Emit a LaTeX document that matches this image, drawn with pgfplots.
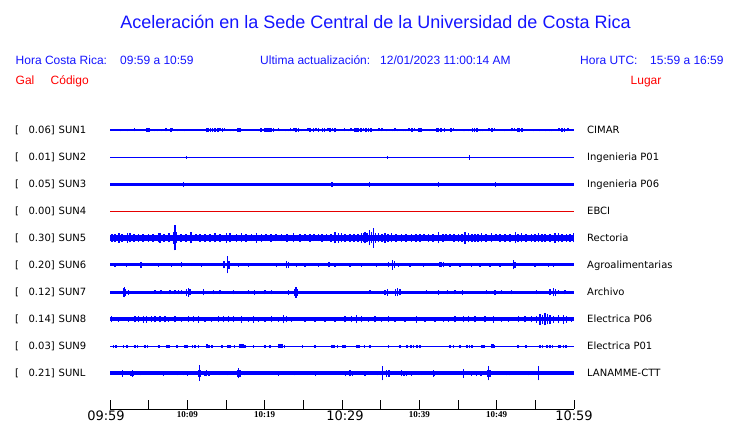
\documentclass[border=0pt]{standalone}
\usepackage{fontspec}
\setmainfont{Liberation Sans}
\newfontfamily\dejavu{DejaVu Sans}
\newfontfamily\lserif{Liberation Serif}
\usepackage{pgfplots}
\pgfplotsset{compat=1.18}
\definecolor{trace}{RGB}{0,0,255}
\definecolor{hdrblue}{RGB}{20,20,255}
\definecolor{hdrred}{RGB}{255,0,0}
\definecolor{redline}{RGB}{230,0,0}
\pgfplotsset{
  spk/.style={draw=trace, line width=#1, mark=none, forget plot, -,
    quiver={u=0, v=2*\thisrowno{1}}},
  spk/.default=1pt,
  baseln/.style={draw=trace, line width=#1, mark=none, forget plot},
}
\begin{document}
\begin{tikzpicture}
\path[use as bounding box] (0,0) rectangle (740pt,423pt);
% ---- header texts ----
\node[anchor=base, inner sep=0, text=hdrblue, font=\fontsize{18}{20}\selectfont] at (375.5pt,394.5pt) {Aceleración en la Sede Central de la Universidad de Costa Rica};
\begin{scope}[every node/.style={inner sep=0, text=hdrblue, font=\fontsize{12}{14}\selectfont}]
\node[anchor=base west] at (15.5pt,358.7pt) {Hora Costa Rica:};
\node[anchor=base west] at (120pt,358.7pt) {09:59 a 10:59};
\node[anchor=base west] at (260pt,358.7pt) {Ultima actualización:};
\node[anchor=base west] at (380pt,358.7pt) {12/01/2023 11:00:14 AM};
\node[anchor=base west] at (580pt,358.7pt) {Hora UTC:};
\node[anchor=base west] at (650pt,358.7pt) {15:59 a 16:59};
\end{scope}
\begin{scope}[every node/.style={inner sep=0, text=hdrred, font=\fontsize{12}{14}\selectfont}]
\node[anchor=base west] at (15.5pt,338.7pt) {Gal};
\node[anchor=base west] at (50.5pt,338.7pt) {Código};
\node[anchor=base west] at (630.5pt,338.7pt) {Lugar};
\end{scope}
% ---- trace labels ----
\begin{scope}[every node/.style={inner sep=0, font=\dejavu\fontsize{10}{12}\selectfont}]
\foreach \py/\val/\code/\place in {130/0.06/SUN1/CIMAR, 157.3/0.01/SUN2/Ingenieria P01, 184.3/0.05/SUN3/Ingenieria P06, 211.3/0.00/SUN4/EBCI, 238/0.30/SUN5/Rectoria, 265/0.20/SUN6/Agroalimentarias, 292.3/0.12/SUN7/Archivo, 319.3/0.14/SUN8/Electrica P06, 346.3/0.03/SUN9/Electrica P01, 373.3/0.21/SUNL/LANAMME-CTT}{
  \pgfmathsetmacro{\yy}{423-\py-3.7}
  \node[anchor=base west] at (15pt,\yy pt) {[};
  \node[anchor=base east] at (55pt,\yy pt) {\val]};
  \node[anchor=base west] at (58.5pt,\yy pt) {\code};
  \node[anchor=base west] at (587pt,\yy pt) {\place};
}
\end{scope}
% ---- time labels ----
\node[anchor=base, inner sep=0, font=\dejavu\fontsize{13}{13}\selectfont] at (106pt,2.4pt) {09:59};
\node[anchor=base, inner sep=0, font=\dejavu\fontsize{13}{13}\selectfont] at (345pt,2.4pt) {10:29};
\node[anchor=base, inner sep=0, font=\dejavu\fontsize{13}{13}\selectfont] at (574pt,2.4pt) {10:59};
\foreach \xx/\tt in {187.3/10:09, 264.7/10:19, 419.3/10:39, 496.7/10:49}{
  \node[anchor=base, inner sep=0, font=\lserif\bfseries\fontsize{9}{9}\selectfont] at (\xx pt,5pt) {\tt};
}
\begin{axis}[at={(110pt,14pt)}, anchor=south west, scale only axis,
  width=464pt, height=294pt, xmin=0, xmax=464, ymin=0, ymax=294,
  clip=false, axis x line*=bottom, axis y line=none,
  axis line style={black, line width=0.8pt},
  xtick={0,38.667,77.333,116,154.667,193.333,232,270.667,309.333,348,386.667,425.333,464},
  xticklabels={}, xtick align=inside, major tick length=9pt,
  tick style={black, line width=0.8pt}, ytick=\empty]
% SUN1
\addplot[baseln=1.3pt] coordinates {(0,279) (464,279)};
\addplot[spk=1.6pt] table[row sep=\\, x index=0, y expr=279-\thisrowno{1}] {
10.7 1.3\\ 17.3 1.3\\ 24.3 1.5\\ 36.7 1.6\\ 39 1.6\\ 45 1.3\\ 47.3 1.3\\ 51.7 1.3\\ 56 1.5\\ 57 1.3\\
60.7 1.6\\ 61.7 1.5\\ 67.3 1.3\\ 74.3 1.3\\ 84.3 1\\ 96.7 2.3\\ 98.3 1.8\\ 100.3 1.6\\ 102.3 1.6\\ 105 1.6\\
107.7 1.6\\ 110 1.5\\ 112.3 1.6\\ 114.3 1.5\\ 120.7 1.3\\ 123.3 1.3\\ 128 1.6\\ 130 1.6\\ 149 1.3\\ 151 1.6\\
155 1.6\\ 157 1.8\\ 159 1.8\\ 161 1.6\\ 163.3 1.6\\ 168.3 1.5\\ 170 1.3\\ 175.7 1.3\\ 178.3 1.3\\ 180.3 1.5\\
184 1.5\\ 186 2.3\\ 188.3 1.6\\ 191.7 1.3\\ 197.7 1.5\\ 200 1.6\\ 203.3 1.6\\ 205.7 1.5\\ 208.3 1.6\\ 212.3 1.6\\
214.3 2.2\\ 217.7 1.5\\ 220 1.6\\ 222.3 1.5\\ 225 2.3\\ 228.3 1.3\\ 234.3 1.5\\ 239 1.3\\ 241 1.5\\ 245 1.8\\
246.7 2.2\\ 248.3 1.8\\ 251 1.6\\ 253.3 1.5\\ 256 2.3\\ 258.3 1.8\\ 261 1.6\\ 263.3 1.3\\ 268.7 1.5\\ 272 1.5\\
276.7 1.3\\ 282.3 1.3\\ 285 1.5\\ 287.7 1.3\\ 293.3 1.3\\ 295.7 1.3\\ 299 1.5\\ 301.7 1.6\\ 304.3 1.5\\ 309 1.6\\
311 1.6\\ 320 1.3\\ 326.7 1.8\\ 328.3 2.3\\ 331 1.8\\ 334.3 1.6\\ 341 1.8\\ 343.3 1.5\\ 346.7 1.3\\ 353.3 1.3\\
355 1.3\\ 358.3 1.3\\ 362.3 1.8\\ 364.3 2.2\\ 366.7 1.6\\ 371 1.3\\ 372.7 1.3\\ 379 1.5\\ 381.7 1.6\\ 384.3 1.5\\
394.3 1.3\\ 401.7 1.5\\ 404.3 1.5\\ 407.7 1.8\\ 409.3 2.3\\ 411.7 1.6\\ 415 1.3\\ 423.3 1.3\\ 430 1.3\\ 435.7 1.3\\
440 1.3\\ 441.7 1.3\\ 449 1.5\\ 451.7 1.6\\ 454.3 1.6\\ 457.7 1.5\\
};
% SUN2
\addplot[baseln=1.4pt] coordinates {(0,251.7) (464,251.7)};
\addplot[spk=1.4pt] table[row sep=\\, x index=0, y expr=251.7-\thisrowno{1}] {
76.3 1.4\\ 277.7 1.4\\ 359.3 2.4\\
};
% SUN3
\addplot[baseln=2.7pt] coordinates {(0,224.7) (464,224.7)};
\addplot[spk=1pt] table[row sep=\\, x index=0, y expr=224.7-\thisrowno{1}] {
73.3 2.5\\ 221 2.6\\ 222.7 2.6\\ 259.3 2.6\\ 328.3 2.6\\ 385.3 2.6\\
};
% SUN4 (red)
\addplot[draw=redline, line width=1.4pt, mark=none, forget plot] coordinates {(0,197.7) (464,197.7)};
% SUN5
\addplot[baseln=5.5pt] coordinates {(0,171) (464,171)};
\addplot[spk=1.3pt] table[row sep=\\, x index=0, y expr=171-\thisrowno{1}] {
2 3.8\\ 5 4.2\\ 9 5\\ 12 3.8\\ 17.7 5\\ 20 4.5\\ 24 3.6\\ 28.3 4\\ 33 3.6\\ 38.3 4\\ 43 3.8\\ 48.3 4.5\\ 50 5\\
54 3.8\\ 59 4.5\\ 63.3 6\\ 65 12.5\\ 66.7 5.5\\ 71 3.6\\ 76 3.8\\ 81 5.5\\ 86 3.5\\ 90 3.6\\ 95 4\\ 100 4\\
105 4.5\\ 110 3.6\\ 116.7 5\\ 120 4.5\\ 126.7 4\\ 131.7 4.5\\ 136 3.6\\ 141.7 3.5\\ 146.7 5\\ 151.7 4\\ 156 3.5\\
161 3.6\\ 166 3.5\\ 171.7 3.5\\ 177 3.8\\ 183.3 4.5\\ 190 4\\ 195 3.5\\ 200 3.6\\ 204 3.5\\ 208.3 3.5\\ 212 3.8\\
216.7 3.5\\ 221 4\\ 225 5.5\\ 228.3 5\\ 231.7 4.5\\ 235 4\\ 240 4\\ 244 3.6\\ 248 4\\ 251.7 5\\ 253.3 4.5\\
255 5.5\\ 257 4.5\\ 259.3 7.5\\ 261.7 5.5\\ 263.3 10\\ 265.7 5\\ 268.3 4.5\\ 272 3.8\\ 275 5\\ 278 3.6\\ 281.7 4.5\\
286 3.6\\ 291.7 4\\ 296 3.6\\ 301.7 4\\ 306 3.6\\ 310 4\\ 314 3.5\\ 318.3 4\\ 323 3.6\\ 328.3 5.5\\ 333 3.6\\
336 3.5\\ 340 3.5\\ 344 3.6\\ 348.3 4\\ 352 3.6\\ 355 6\\ 358.3 4.5\\ 362 3.6\\ 365 4\\ 368 3.6\\ 371.7 4.5\\
376 3.6\\ 381.7 4.5\\ 386 3.5\\ 390 3.6\\ 395 4\\ 400 3.6\\ 405.7 5.5\\ 408 3.8\\ 411.7 4.5\\ 416 3.6\\ 421.7 4\\
425 3.8\\ 428.3 4.5\\ 432 3.6\\ 435 4\\ 440 3.6\\ 445 5\\ 448.3 4.5\\ 452 3.8\\ 456.7 4\\ 460 3.8\\ 463.3 4.5\\
};
% SUN6
\addplot[baseln=3pt] coordinates {(0,144) (464,144)};
\addplot[spk=1.2pt] table[row sep=\\, x index=0, y expr=144-\thisrowno{1}] {
5 1.8\\ 16.7 1.8\\ 31 3\\ 48.3 1.8\\ 61.7 1.8\\ 71.7 2.5\\ 91.7 2.2\\ 114 3.5\\ 117.3 8.5\\ 119 4\\
128.3 2\\ 138.3 2\\ 166.7 2.2\\ 176.7 3.5\\ 178.3 3\\ 186.7 2.2\\ 195 1.8\\ 208.3 2\\ 219 2.5\\ 225 2\\
240 2\\ 251.7 2\\ 266.7 2\\ 278.3 2.5\\ 282.3 5\\ 284.3 3.5\\ 288.3 2\\ 300 1.8\\ 313.3 2\\ 330 2.5\\
331.7 2.5\\ 333.3 2.5\\ 340 2\\ 350 2\\ 361.7 1.8\\ 370 2\\ 380 2\\ 390 2\\ 403.3 4.5\\ 405 3\\ 425 2\\ 438.3 2\\ 443.3 1.8\\
};
% SUN7
\addplot[baseln=2.7pt] coordinates {(0,116.7) (464,116.7)};
\addplot[spk=1.2pt] table[row sep=\\, x index=0, y expr=116.7-\thisrowno{1}] {
13.3 4.5\\ 14.3 5\\ 15.7 3.5\\ 18.3 2.5\\ 45 1.8\\ 51 2\\ 60 2\\ 65 2\\ 68.3 2.2\\ 71.7 2.2\\
76.7 3.5\\ 78.3 4.5\\ 80 3\\ 93.3 3\\ 103.3 2\\ 110 2\\ 123.3 2\\ 138.3 2\\ 144.3 2.5\\ 155 2\\
161.7 2\\ 178.3 2.5\\ 184.3 3.5\\ 186 5.5\\ 187.7 3.5\\ 196.7 1.5\\ 225 1.5\\ 260 1.8\\ 275 2.5\\ 277.7 3.5\\
285.7 3.5\\ 287.7 4\\ 290 3\\ 316.7 1.8\\ 328.3 2.5\\ 337.7 2\\ 345 2\\ 352.3 2.5\\ 376.7 2\\ 385 2.5\\
391.7 1.8\\ 401.7 2\\ 426.7 2\\ 440 3\\ 443.3 4\\ 445.7 3.5\\ 448.3 2.2\\ 455 2\\
};
% SUN8
\addplot[baseln=4pt] coordinates {(0,89.7) (464,89.7)};
\addplot[spk=1.3pt] table[row sep=\\, x index=0, y expr=89.7-\thisrowno{1}] {
1.7 3\\ 8.3 2.7\\ 18.3 2.7\\ 25 3\\ 28.3 3\\ 33.3 3.3\\ 36.7 3.3\\ 41.7 3\\ 45 3\\ 50 3\\
55 3\\ 58.3 2.7\\ 65 3\\ 71.7 2.7\\ 78.3 3\\ 83.3 3\\ 88.3 3.3\\ 95 2.7\\ 101.7 2.7\\ 108.3 3\\
113.3 3\\ 118.3 3\\ 123.3 3\\ 131.7 3.5\\ 138.3 2.7\\ 143.3 3.3\\ 148.3 2.7\\ 155 2.7\\ 161.7 3\\ 168.3 2.7\\
173.3 4\\ 176.7 3\\ 181.7 2.7\\ 195 2.7\\ 205 2.7\\ 215 2.7\\ 225 2.7\\ 235 3\\ 241.7 3\\ 246.7 4\\
251.7 3\\ 258.3 2.7\\ 265 3\\ 271.7 2.7\\ 278.3 3\\ 285 2.7\\ 295 2.7\\ 306.7 3.5\\ 315 2.7\\ 325 2.7\\
333.3 2.7\\ 338.3 2.7\\ 345 3\\ 353.3 3\\ 358.3 3\\ 365 3\\ 375 3\\ 383.3 3.5\\ 391.7 2.7\\ 398.3 2.7\\
408.3 3\\ 415 3\\ 421.7 3\\ 426.7 3.5\\ 430 5.5\\ 432.3 4.5\\ 435 6\\ 437.7 5\\ 440 4.5\\ 443.3 3.5\\
448.3 4\\ 453.3 4.5\\ 456.7 3.5\\ 461.7 2.7\\
};
% SUN9
\addplot[baseln=1.3pt] coordinates {(0,62.7) (464,62.7)};
\addplot[spk=1.6pt] table[row sep=\\, x index=0, y expr=62.7-\thisrowno{1}] {
3.3 1.6\\ 5.7 1.6\\ 13.3 1.3\\ 16.7 1.3\\ 25 1.6\\ 27.3 1.6\\ 35 1.3\\ 37.3 1.6\\ 49 1.3\\ 56.7 1.3\\
59 1.6\\ 66.7 1.3\\ 75 1.6\\ 76.7 1.3\\ 82.3 1.3\\ 85 1.3\\ 88.3 1.3\\ 96.7 1.8\\ 99 1.6\\ 101.7 1.6\\
111.7 1.3\\ 117.7 1.6\\ 120 1.3\\ 124.3 1.3\\ 130 1.8\\ 132 1.8\\ 133.3 1.8\\ 135 1.6\\ 143.3 1.3\\ 155 1.3\\
160 1.3\\ 168.3 1.8\\ 170 1.8\\ 171.7 1.8\\ 174.3 1.6\\ 192.3 1.6\\ 205 1.3\\ 221.7 1.6\\ 224 1.6\\ 227.3 1.3\\
232.7 1.6\\ 235 1.6\\ 246.7 1.6\\ 249 1.6\\ 254.3 1.3\\ 260 1.3\\ 278.3 1.6\\ 290 1.3\\ 296.7 1.3\\ 301 1.6\\
303.3 1.3\\ 306.7 1.6\\ 310 1.3\\ 340 1.3\\ 343.3 1.3\\ 350 1.3\\ 356.7 1.6\\ 359.3 1.6\\ 361.7 1.3\\ 371.7 1.3\\
374 1.3\\ 381.7 1.8\\ 383 1.8\\ 384.3 1.6\\ 407.7 1.3\\ 415.7 1.3\\ 430 1.6\\ 432.3 1.6\\ 436.7 1.6\\ 440 1.6\\
442.3 1.6\\ 448.3 1.6\\ 450 1.6\\ 453.3 1.6\\ 456 1.3\\
};
% SUNL
\addplot[baseln=4pt] coordinates {(0,35.7) (464,35.7)};
\addplot[spk=1.2pt] table[row sep=\\, x index=0, y expr=35.7-\thisrowno{1}] {
12.7 3.5\\ 21 2.5\\ 22.3 3.5\\ 23.3 2.5\\ 31 2\\ 47.3 1.8\\ 53.3 2.5\\ 67.7 2\\ 73.3 2.2\\ 77.7 2.5\\
88.3 3.5\\ 89.3 7.8\\ 90.7 3.5\\ 95 2.5\\ 96.7 3\\ 99 2.5\\ 110 1.8\\ 117.7 2\\ 127.3 3.5\\ 128.3 5\\
130 3.5\\ 134.3 2\\ 145.7 1.5\\ 168.3 2.5\\ 184.3 2\\ 197.7 1.8\\ 205.7 2.5\\ 235.7 2.5\\ 240 3\\ 242.3 2.5\\
254.3 2.5\\ 255.7 2.5\\ 267.7 2.2\\ 270.3 2.2\\ 272.3 7\\ 276.7 3.5\\ 279 3.5\\ 291.7 3\\ 294 2.5\\ 296.7 2.5\\
301.7 2.5\\ 309 1.8\\ 323.3 3.5\\ 324.7 2.5\\ 353.3 4.5\\ 361.7 2.5\\ 366.7 2.5\\ 371 2.5\\ 377.7 3.5\\ 378.3 7\\
380 3.5\\ 396.7 2.2\\ 400 2.2\\ 418.3 2\\ 428.3 7\\ 455 1.5\\
};
\end{axis}
\end{tikzpicture}
\end{document}
